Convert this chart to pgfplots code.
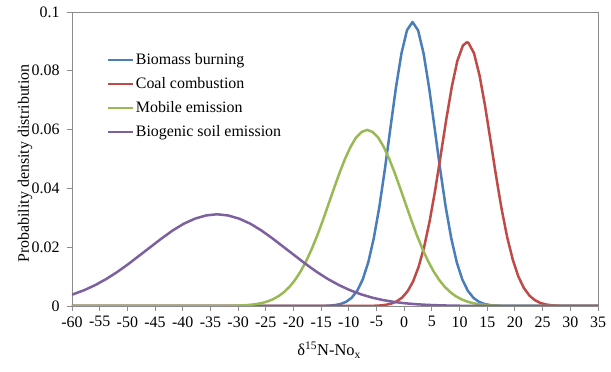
\documentclass[border=0pt]{standalone}
\usepackage{fontspec}
\setmainfont{Liberation Serif}
\usepackage{pgfplots}
\pgfplotsset{compat=1.18}
\definecolor{cblue}{HTML}{4A7EBB}
\definecolor{cred}{HTML}{BE4B48}
\definecolor{cgreen}{HTML}{98B954}
\definecolor{cpurple}{HTML}{7D60A0}
\definecolor{axgray}{HTML}{8C8C8C}
\begin{document}
\begin{tikzpicture}
\useasboundingbox (-72bp,-66bp) rectangle (539bp,306bp);
\begin{axis}[
  scale only axis, width=526bp, height=294bp,
  xmin=-60, xmax=35, ymin=0, ymax=0.1,
  xtick={-60,-55,...,35},
  ytick={0,0.02,0.04,0.06,0.08,0.1},
  scaled y ticks=false,
  yticklabel style={/pgf/number format/fixed,/pgf/number format/precision=2},
  /pgf/number format/assume math mode=true,
  tick label style={font=\fontsize{16}{19}\selectfont, text=black},
  xticklabel style={yshift=-2bp},
  yticklabel style={xshift=-4bp},
  axis line style={axgray, line width=0.9bp},
  tick style={axgray, line width=0.9bp},
  tick align=outside, major tick length=5bp,
  xtick pos=lower, ytick pos=left,
  ylabel={Probability density distribution},
  ylabel style={at={(axis description cs:-0.0894,0.485)}, anchor=center, rotate=0, font=\fontsize{16}{19}\selectfont},
  xlabel={δ\textsuperscript{15}N-No\textsubscript{x}},
  xlabel style={at={(axis description cs:0.489,-0.15)}, anchor=center, font=\fontsize{16.5}{19}\selectfont},
  legend style={draw=none, fill=none, at={(axis description cs:0.065,0.866)}, anchor=north west,
     font=\fontsize{16}{19}\selectfont, row sep=7.5bp, inner sep=0pt},
  legend cell align=left,
  legend image code/.code={\draw[#1] (0bp,0bp) -- (25bp,0bp);},
  every axis plot/.append style={line width=2.5bp, line join=round},
]
\addplot[cblue] coordinates {
(-60,0) (-15.5,0) (-14.5,0.00005) (-13.5,0.00013) (-12.5,0.00031) (-11.5,0.00068) (-10.5,0.00142) (-9.5,0.00278)
(-8.5,0.00515) (-7.5,0.00899) (-6.5,0.0148) (-5.5,0.0230) (-4.5,0.0336) (-3.5,0.0464) (-2.5,0.0604)
(-1.5,0.0742) (-0.5,0.0859) (0.5,0.0938) (1.5,0.0966) (2.5,0.0938) (3.5,0.0859) (4.5,0.0742)
(5.5,0.0604) (6.5,0.0464) (7.5,0.0336) (8.5,0.0230) (9.5,0.0148) (10.5,0.00899) (11.5,0.00515)
(12.5,0.00278) (13.5,0.00142) (14.5,0.00068) (15.5,0.00031) (16.5,0.00013) (17.5,0.00005) (18.5,0) (35,0)
};
\addlegendentry{Biomass burning}
\addplot[cred] coordinates {
(-60,0) (-7.4,0) (-6.4,0.00003) (-5.4,0.00008) (-4.4,0.00018) (-3.4,0.00038) (-2.4,0.00078) (-1.4,0.00153)
(-0.4,0.00283) (0.6,0.00498) (1.6,0.00833) (2.6,0.0133) (3.6,0.0201) (4.6,0.0289) (5.6,0.0395)
(6.6,0.0514) (7.6,0.0635) (8.6,0.0746) (9.6,0.0834) (10.6,0.0886) (11.3,0.0897) (11.6,0.0895)
(12.6,0.0860) (13.6,0.0785) (14.6,0.0681) (15.6,0.0562) (16.6,0.0441) (17.6,0.0329) (18.6,0.0234)
(19.6,0.0158) (20.6,0.0101) (21.6,0.00616) (22.6,0.00357) (23.6,0.00197) (24.6,0.00103)
(25.6,0.00051) (26.6,0.00024) (27.6,0.00011) (28.6,0.00005) (29.6,0) (35,0)
};
\addlegendentry{Coal combustion}
\addplot[cgreen] coordinates {
(-60,0) (-32.7,0) (-31.7,0.00005) (-30.7,0.00009) (-29.7,0.00015) (-28.7,0.00026) (-27.7,0.00042)
(-26.7,0.00066) (-25.7,0.00102) (-24.7,0.00155) (-23.7,0.00231) (-22.7,0.00334) (-21.7,0.00474)
(-20.7,0.00657) (-19.7,0.00891) (-18.7,0.0118) (-17.7,0.0153) (-16.7,0.0194) (-15.7,0.0240)
(-14.7,0.0291) (-13.7,0.0345) (-12.7,0.0399) (-11.7,0.0452) (-10.7,0.0500) (-9.7,0.0541)
(-8.7,0.0573) (-7.7,0.0592) (-6.7,0.0599) (-5.7,0.0592) (-4.7,0.0573) (-3.7,0.0541) (-2.7,0.0500)
(-1.7,0.0452) (-0.7,0.0399) (0.3,0.0345) (1.3,0.0291) (2.3,0.0240) (3.3,0.0194) (4.3,0.0153)
(5.3,0.0118) (6.3,0.00891) (7.3,0.00657) (8.3,0.00474) (9.3,0.00334) (10.3,0.00231) (11.3,0.00155)
(12.3,0.00102) (13.3,0.00066) (14.3,0.00042) (15.3,0.00026) (16.3,0.00015) (17.3,0.00009)
(18.3,0.00005) (19.3,0) (35,0)
};
\addlegendentry{Mobile emission}
\addplot[cpurple] coordinates {
(-60,0.00384) (-57.8,0.00538) (-55.8,0.00712) (-53.8,0.00920) (-51.8,0.0116) (-49.8,0.0143)
(-47.8,0.0172) (-45.8,0.0201) (-43.8,0.0230) (-41.8,0.0257) (-39.8,0.0280) (-37.8,0.0297)
(-35.8,0.0308) (-33.8,0.0312) (-31.8,0.0308) (-29.8,0.0297) (-27.8,0.0280) (-25.8,0.0257)
(-23.8,0.0230) (-21.8,0.0201) (-19.8,0.0172) (-17.8,0.0143) (-15.8,0.0116) (-13.8,0.00920)
(-11.8,0.00712) (-9.8,0.00538) (-7.8,0.00397) (-5.8,0.00285) (-3.8,0.00200) (-1.8,0.00137)
(0.2,0.00092) (2.2,0.00060) (4.2,0.00038) (6.2,0.00024) (8.2,0.00014) (10.2,0.00008)
(12.2,0.00005) (14.2,0) (35,0)
};
\addlegendentry{Biogenic soil emission}
\draw[axgray, line width=0.9bp] (rel axis cs:0,1) -- (rel axis cs:1,1) -- (rel axis cs:1,0);
\end{axis}
\end{tikzpicture}
\end{document}
